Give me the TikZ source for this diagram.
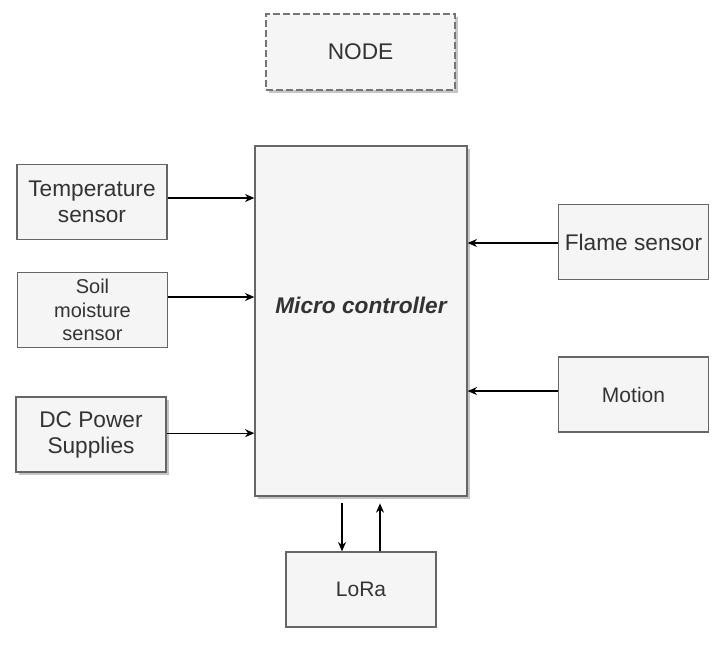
\documentclass[tikz,border=0pt]{standalone}
\usepackage{fontspec}
\setmainfont{Liberation Sans}
\usetikzlibrary{arrows.meta,shadows,calc}
\definecolor{boxfill}{HTML}{F5F5F5}
\definecolor{boxline}{HTML}{666666}
\definecolor{txt}{HTML}{333333}
\begin{document}
\begin{tikzpicture}[x=0.75pt,y=-0.75pt,
  box/.style={rectangle,draw=boxline,fill=boxfill,line width=1pt,text=txt,align=center,inner sep=0pt,
    minimum width=112.5pt,minimum height=56.25pt,font=\fontsize{17}{19.5}\selectfont},
  shad/.style={drop shadow={shadow xshift=2.25pt,shadow yshift=-2.25pt,fill=black!45,opacity=0.5}},
  arr/.style={-{Stealth[length=7pt,width=6pt]},line width=1pt,draw=black}]
\useasboundingbox[fill=white] (0,0) rectangle (728,647);
% top dashed node
\node[box,shad,dashed,dash pattern=on 5pt off 2.5pt,line width=1.6pt,draw=boxline!90,
  minimum width=141.75pt,minimum height=57pt] (top) at (360.5,52) {NODE};
% micro controller
\node[box,shad,minimum width=159pt,minimum height=262.5pt] (mc) at (361,321) {};
\node[text=txt,font=\fontsize{17}{19.5}\selectfont\bfseries\itshape,inner sep=0pt] (mctext) at (361,305) {Micro controller};
% left sensors
\node[box] (temp) at (92,202) {Temperature\\sensor};
\node[box,font=\fontsize{15}{17.6}\selectfont] (soil) at (92.5,310) {Soil\\moisture\\sensor};
\node[box,shad] (dc) at (91,434.5) {DC Power\\Supplies};
% right sensors
\node[box] (flame) at (633.5,242) {Flame sensor};
\node[box,font=\fontsize{15.75}{19}\selectfont] (motion) at (633.5,394.5) {Motion};
% LoRa
\node[box,font=\fontsize{15.75}{19}\selectfont] (lora) at (361,589.5) {LoRa};
% connectors
\draw[arr] ([yshift=3pt]temp.east) -- ([yshift=3pt]temp.east -| mc.west);
\draw[arr] ([yshift=9.75pt]soil.east) -- ([yshift=9.75pt]soil.east -| mc.west);
\draw[arr] ([yshift=1pt]dc.east) -- ([yshift=1pt]dc.east -| mc.west);
\draw[arr] ([yshift=-0.75pt]flame.west) -- ([yshift=-0.75pt]flame.west -| mc.east);
\draw[arr] ([yshift=2.6pt]motion.west) -- ([yshift=2.6pt]motion.west -| mc.east);
\draw[arr] ([shift={(-14.25pt,-4.5pt)}]mc.south) -- ([xshift=-14.25pt]lora.north);
\draw[arr] ([xshift=14.25pt]lora.north) -- ([shift={(14.25pt,-5pt)}]mc.south);
\end{tikzpicture}
\end{document}
